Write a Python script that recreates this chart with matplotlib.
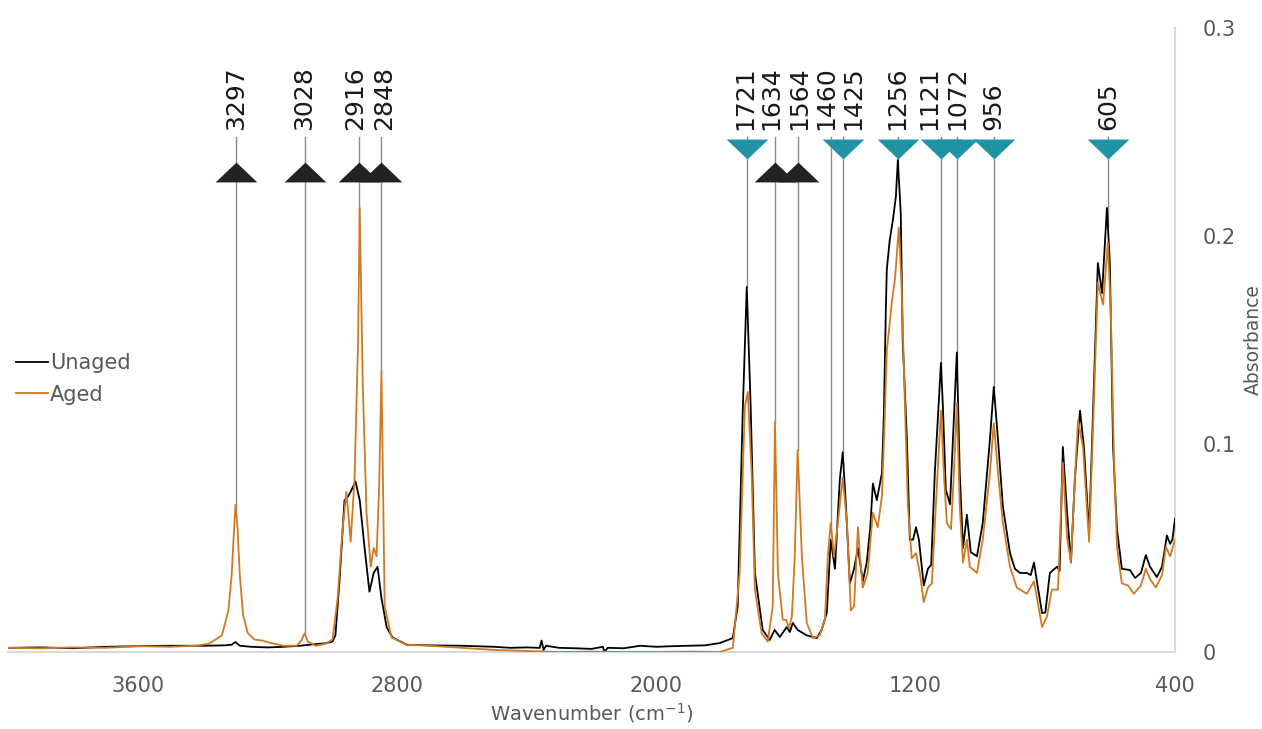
import numpy as np
import matplotlib
matplotlib.use('Agg')
import matplotlib.pyplot as plt
from matplotlib.path import Path

plt.rcParams['font.family'] = ['DejaVu Sans']
plt.rcParams['mathtext.default'] = 'regular'

# spectra (wavenumber, absorbance)
wn_unaged = [4000, 3900, 3800, 3700, 3600, 3500, 3400, 3330, 3310, 3298, 3285, 3250, 3200, 3150, 3100,
             3050, 3020, 2999, 2990, 2977, 2962, 2950, 2940, 2928, 2915, 2900, 2885, 2872, 2860, 2848,
             2832, 2814, 2770, 2700, 2600, 2500, 2450, 2400, 2360, 2354, 2348, 2340, 2300, 2250, 2200,
             2165, 2160, 2150, 2100, 2050, 2000, 1950, 1900, 1850, 1804, 1764, 1749, 1733, 1721, 1709,
             1696, 1672, 1650, 1635, 1619, 1598, 1588, 1579, 1564, 1536, 1505, 1490, 1474, 1462, 1449,
             1434, 1425, 1415, 1403, 1390, 1378, 1363, 1351, 1340, 1332, 1320, 1304, 1298, 1292, 1289,
             1280, 1270, 1261, 1255, 1246, 1240, 1227, 1218, 1208, 1199, 1190, 1175, 1162, 1152, 1141,
             1122, 1116, 1107, 1094, 1085, 1073, 1064, 1054, 1042, 1030, 1011, 993, 971, 959, 946,
             931, 909, 894, 878, 857, 845, 835, 823, 810, 800, 786, 764, 756, 746, 733,
             721, 709, 693, 681, 665, 653, 638, 625, 610, 601, 591, 579, 564, 539, 523,
             505, 490, 477, 456, 440, 425, 415, 408, 400]
abs_unaged = [0.002, 0.0022, 0.0018, 0.0025, 0.0028, 0.003, 0.003, 0.0032, 0.0035, 0.0048, 0.003, 0.0025, 0.0022, 0.0025, 0.003,
              0.0038, 0.0042, 0.005, 0.008, 0.035, 0.073, 0.075, 0.078, 0.082, 0.073, 0.050, 0.029, 0.038, 0.041, 0.026,
              0.012, 0.007, 0.0035, 0.0032, 0.003, 0.0025, 0.002, 0.0022, 0.002, 0.0055, 0.001, 0.003, 0.002, 0.0018, 0.0015,
              0.0025, 0.0, 0.002, 0.0018, 0.003, 0.0025, 0.0028, 0.003, 0.0032, 0.0043, 0.0067, 0.022, 0.118, 0.1755, 0.118,
              0.038, 0.0106, 0.0058, 0.0106, 0.0072, 0.012, 0.0096, 0.014, 0.0106, 0.008, 0.0067, 0.0106, 0.019, 0.054, 0.040,
              0.083, 0.096, 0.070, 0.033, 0.040, 0.050, 0.034, 0.043, 0.060, 0.081, 0.073, 0.086, 0.115, 0.165, 0.184,
              0.198, 0.208, 0.219, 0.2365, 0.211, 0.150, 0.102, 0.054, 0.054, 0.060, 0.054, 0.032, 0.040, 0.042, 0.086,
              0.139, 0.118, 0.078, 0.071, 0.102, 0.144, 0.086, 0.050, 0.066, 0.048, 0.046, 0.062, 0.102, 0.1275, 0.102,
              0.070, 0.0475, 0.040, 0.038, 0.038, 0.037, 0.043, 0.031, 0.0187, 0.019, 0.038, 0.041, 0.039, 0.0986, 0.067,
              0.043, 0.083, 0.116, 0.0986, 0.057, 0.115, 0.187, 0.1725, 0.2135, 0.187, 0.0986, 0.059, 0.040, 0.0394, 0.0356,
              0.038, 0.0466, 0.041, 0.036, 0.041, 0.056, 0.052, 0.054, 0.064]

wn_aged = [4000, 3900, 3800, 3700, 3600, 3500, 3420, 3380, 3340, 3320, 3310, 3303, 3298, 3292, 3285,
           3275, 3260, 3240, 3215, 3195, 3150, 3110, 3095, 3085, 3075, 3050, 3020, 2999, 2983, 2968,
           2956, 2943, 2931, 2920, 2915, 2906, 2894, 2881, 2872, 2863, 2855, 2848, 2838, 2817, 2770,
           2700, 2600, 2500, 2400, 2300, 2200, 2100, 2000, 1900, 1804, 1764, 1743, 1727, 1718, 1706,
           1696, 1675, 1656, 1641, 1634, 1625, 1610, 1600, 1591, 1582, 1573, 1564, 1551, 1536, 1517,
           1496, 1480, 1471, 1462, 1452, 1440, 1425, 1412, 1400, 1390, 1378, 1372, 1363, 1348, 1332,
           1317, 1304, 1296, 1289, 1280, 1273, 1264, 1252, 1243, 1233, 1224, 1212, 1199, 1187, 1175,
           1162, 1150, 1138, 1122, 1113, 1104, 1091, 1082, 1073, 1064, 1054, 1042, 1033, 1011, 993,
           971, 959, 946, 931, 909, 888, 857, 835, 823, 810, 795, 780, 761, 746, 733,
           721, 709, 699, 684, 665, 653, 638, 622, 607, 598, 588, 579, 564, 545, 527,
           505, 490, 477, 459, 440, 428, 415, 400]
abs_aged = [0.002, 0.0018, 0.0022, 0.002, 0.0028, 0.0025, 0.003, 0.004, 0.008, 0.02, 0.037, 0.058, 0.0707, 0.06, 0.037,
            0.018, 0.009, 0.006, 0.0055, 0.0045, 0.003, 0.003, 0.0055, 0.009, 0.005, 0.003, 0.004, 0.006, 0.026, 0.059,
            0.077, 0.053, 0.083, 0.15, 0.2135, 0.131, 0.067, 0.041, 0.050, 0.046, 0.08, 0.135, 0.022, 0.007, 0.0035,
            0.003, 0.002, 0.001, 0.0005, 0.0, 0.0002, 0.0, 0.0, 0.0002, 0.0, 0.002, 0.038, 0.118, 0.125, 0.086,
            0.030, 0.009, 0.005, 0.022, 0.1106, 0.038, 0.0155, 0.0155, 0.0115, 0.017, 0.046, 0.097, 0.046, 0.014, 0.0067,
            0.008, 0.0155, 0.046, 0.062, 0.046, 0.062, 0.084, 0.062, 0.020, 0.022, 0.060, 0.046, 0.031, 0.038, 0.067,
            0.060, 0.075, 0.11, 0.145, 0.158, 0.169, 0.179, 0.204, 0.174, 0.118, 0.070, 0.045, 0.0475, 0.038, 0.024,
            0.031, 0.033, 0.070, 0.116, 0.086, 0.062, 0.059, 0.086, 0.1196, 0.070, 0.043, 0.054, 0.041, 0.038, 0.054,
            0.086, 0.110, 0.086, 0.062, 0.041, 0.031, 0.028, 0.034, 0.0235, 0.012, 0.017, 0.030, 0.030, 0.091, 0.055,
            0.043, 0.083, 0.1115, 0.0986, 0.053, 0.107, 0.1775, 0.167, 0.197, 0.163, 0.091, 0.0505, 0.033, 0.032, 0.028,
            0.032, 0.040, 0.035, 0.031, 0.037, 0.0505, 0.046, 0.054]

# peak marks: label text, where the line sits, where the label sits
peak_labels = ['3297', '3028', '2916', '2848', '1721', '1634', '1564', '1460', '1425',
               '1256', '1121', '1072', '956', '605']
peak_pos = [3297, 3085, 2916, 2848, 1721, 1634, 1564, 1460, 1425, 1256, 1121, 1072, 958, 607]
label_pos = [3297, 3085, 2928, 2841, 1727, 1644, 1560, 1477, 1394, 1258, 1159, 1073, 959, 607]
up_marks = [3297, 3085, 2916, 2848, 1634, 1564]
down_marks = [1721, 1425, 1256, 1121, 1072, 958, 607]

black_col = '#000000'
aged_col = '#cf7a22'
teal = '#1f93a3'
grey_txt = '#595959'

fig = plt.figure(figsize=(12.62, 7.29), dpi=100)
ax = fig.add_axes([8 / 1262, 77 / 729, 1167 / 1262, 624 / 729])

ax.plot(wn_unaged, abs_unaged, color=black_col, lw=1.3, label='Unaged', zorder=3)
ax.plot(wn_aged, abs_aged, color=aged_col, lw=1.3, label='Aged', zorder=3)

# vertical guide lines down to the taller of the two curves
xu, yu = np.array(wn_unaged)[::-1], np.array(abs_unaged)[::-1]
xa, ya = np.array(wn_aged)[::-1], np.array(abs_aged)[::-1]
line_top = 0.2476
for p in peak_pos:
    bottom = max(np.interp(p, xu, yu), np.interp(p, xa, ya))
    ax.plot([p, p], [bottom, line_top], color='#8c8c8c', lw=1, zorder=2)

for lab, p in zip(peak_labels, label_pos):
    ax.text(p, 0.251, lab, rotation=90, ha='center', va='bottom', fontsize=18, color='#1a1a1a')

up_tri = Path([(-1, -0.476), (1, -0.476), (0, 0.476), (-1, -0.476)])
down_tri = Path([(-1, 0.476), (1, 0.476), (0, -0.476), (-1, 0.476)])
ax.plot(up_marks, [0.2308] * len(up_marks), ls='none', marker=up_tri, markersize=30,
        color='#222222', markeredgewidth=0, zorder=4)
ax.plot(down_marks, [0.242] * len(down_marks), ls='none', marker=down_tri, markersize=30,
        color=teal, markeredgewidth=0, zorder=4)

ax.set_xlim(4000, 400)
ax.set_ylim(0, 0.3)
ax.set_xticks([3600, 2800, 2000, 1200, 400])
ax.set_yticks([0, 0.1, 0.2, 0.3])
ax.set_yticklabels(['0', '0.1', '0.2', '0.3'])
ax.yaxis.tick_right()
ax.yaxis.set_label_position('right')
ax.tick_params(length=0, labelsize=15, labelcolor=grey_txt)
ax.tick_params(axis='x', pad=17)
ax.tick_params(axis='y', pad=20)
for s in ['left', 'top']:
    ax.spines[s].set_visible(False)
for s in ['right', 'bottom']:
    ax.spines[s].set_color('#d9d9d9')
    ax.spines[s].set_linewidth(1.5)

ax.set_xlabel('Wavenumber (cm$^{-1}$)', fontsize=14, color=grey_txt, labelpad=4)
ax.set_ylabel('Absorbance', fontsize=13.5, color=grey_txt, labelpad=6)

leg = ax.legend(loc='center left', bbox_to_anchor=(0.0, 0.4375), frameon=False, fontsize=15,
                handlelength=1.5, handletextpad=0.1, labelspacing=0.55, borderaxespad=0)
for t in leg.get_texts():
    t.set_color(grey_txt)

fig.savefig('out.png', dpi=100)
